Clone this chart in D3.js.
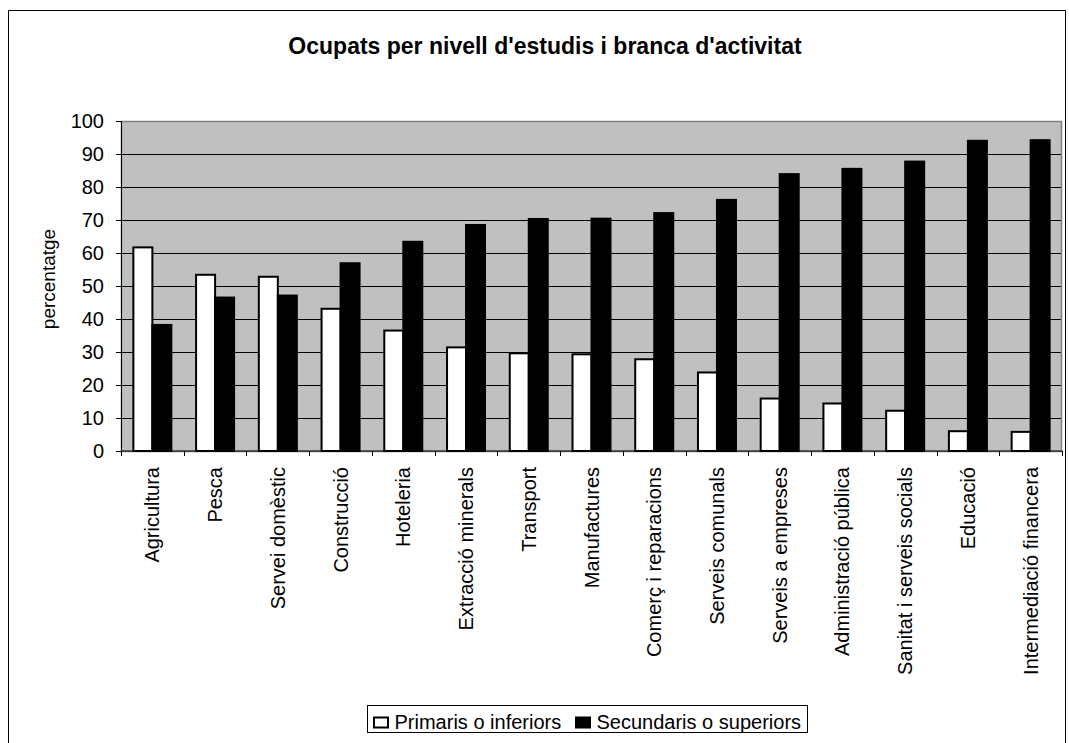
<!DOCTYPE html>
<html>
<head>
<meta charset="utf-8">
<script src="https://cdn.jsdelivr.net/npm/d3@7"></script>
<style>
  body { margin: 0; background: #fff; }
  svg { display: block; font-family: Arial, "Liberation Sans", sans-serif; }
</style>
</head>
<body>
<svg class="chart" width="1069" height="743"></svg>
<script>
const categories = ['Agricultura', 'Pesca', 'Servei domèstic', 'Construcció', 'Hoteleria',
    'Extracció minerals', 'Transport', 'Manufactures', 'Comerç i reparacions', 'Serveis comunals',
    'Serveis a empreses', 'Administració pública', 'Sanitat i serveis socials', 'Educació',
    'Intermediació financera'];
const primaris = [61.7, 53.4, 52.8, 43.1, 36.5, 31.4, 29.6, 29.3, 27.8, 23.8, 15.9, 14.4, 12.2, 6.0, 5.8];
const secundaris = [38.2, 46.5, 47.1, 56.9, 63.4, 68.5, 70.3, 70.4, 72.1, 76.1, 83.9, 85.5, 87.7, 94.0, 94.2];
const seriesNames = ['Primaris o inferiors', 'Secundaris o superiors'];
const yTicks = [0, 10, 20, 30, 40, 50, 60, 70, 80, 90, 100];

const svg = d3.select('.chart');
const width = +svg.attr('width');

const margin = { top: 121, left: 121, right: 7, bottom: 292 };
const innerWidth = width - margin.left - margin.right;
const innerHeight = 743 - margin.top - margin.bottom;

// outer frame, bottom edge runs off the page like in the original
svg.append('path')
    .attr('d', 'M8.5,743V10.5H1065.5V743')
    .attr('fill', 'none').attr('stroke', '#000').attr('stroke-width', 1);

svg.append('text')
    .attr('x', 545).attr('y', 54)
    .attr('text-anchor', 'middle')
    .style('font-size', '23px').style('font-weight', 'bold')
    .text("Ocupats per nivell d'estudis i branca d'activitat");

const g = svg.append('g')
    .attr('transform', `translate(${margin.left}, ${margin.top})`);

const x0 = d3.scaleBand()
    .domain(categories)
    .range([0, innerWidth]);

const x1 = d3.scaleBand()
    .domain(seriesNames)
    .range([0, 38]);

const y = d3.scaleLinear()
    .domain([0, 100])
    .range([innerHeight, 0]);

g.append('rect')
    .attr('width', innerWidth).attr('height', innerHeight)
    .attr('fill', '#c0c0c0');

// gridlines
g.append('g')
    .selectAll('line')
    .data(yTicks.slice(1, -1))
    .join('line')
    .attr('x1', 0).attr('x2', innerWidth)
    .attr('y1', d => Math.round(y(d)) + 0.5).attr('y2', d => Math.round(y(d)) + 0.5)
    .attr('stroke', '#000');

g.append('rect')
    .attr('x', 0.5).attr('y', 0.5)
    .attr('width', innerWidth - 1).attr('height', innerHeight)
    .attr('fill', 'none').attr('stroke', '#808080').attr('stroke-width', 1.5);

const rows = categories.map((c, i) => ({ cat: c, values: [primaris[i], secundaris[i]] }));
const color = d3.scaleOrdinal().domain(seriesNames).range(['#fff', '#000']);
const groupOffset = (x0.bandwidth() - 38) / 2;

g.append('g')
    .selectAll('g')
    .data(rows)
    .join('g')
    .attr('transform', d => `translate(${x0(d.cat) + groupOffset},0)`)
    .selectAll('rect')
    .data(d => seriesNames.map((key, k) => ({ key, value: d.values[k] })))
    .join('rect')
    .attr('x', d => x1(d.key))
    .attr('y', d => y(d.value))
    .attr('width', x1.bandwidth())
    .attr('height', d => y(0) - y(d.value))
    .attr('fill', d => color(d.key))
    .attr('stroke', '#000')
    .attr('stroke-width', 2);

// y axis
const yAxis = g.append('g')
    .call(d3.axisLeft(y).tickValues(yTicks).tickSize(5).tickPadding(12));
yAxis.select('.domain').attr('stroke', '#000');
yAxis.selectAll('text').style('font-size', '20px').attr('fill', '#000');

// x axis with ticks between categories
const xAxis = g.append('g')
    .attr('transform', `translate(0, ${innerHeight})`);
xAxis.append('line')
    .attr('x1', 0).attr('x2', innerWidth)
    .attr('stroke', '#000');
xAxis.selectAll('line.tick')
    .data(d3.range(categories.length + 1))
    .join('line')
    .attr('class', 'tick')
    .attr('x1', i => Math.round(i * x0.step()) + 0.5)
    .attr('x2', i => Math.round(i * x0.step()) + 0.5)
    .attr('y1', 0).attr('y2', 5)
    .attr('stroke', '#000');
xAxis.selectAll('text')
    .data(categories)
    .join('text')
    .attr('transform', d => `translate(${x0(d) + x0.bandwidth() / 2 + 7}, 16) rotate(-90)`)
    .attr('text-anchor', 'end')
    .style('font-size', '20px')
    .text(d => d);

svg.append('text')
    .attr('transform', 'translate(55, 279) rotate(-90)')
    .attr('text-anchor', 'middle')
    .style('font-size', '19px')
    .text('percentatge');

// legend
const legend = svg.append('g').attr('transform', 'translate(367.5, 705.5)');
legend.append('rect')
    .attr('width', 440).attr('height', 27)
    .attr('fill', '#fff').attr('stroke', '#000');
const items = legend.selectAll('g')
    .data(seriesNames)
    .join('g')
    .attr('transform', (d, i) => `translate(${i === 0 ? 6 : 208}, 0)`);
items.append('rect')
    .attr('x', 0.5).attr('y', 12)
    .attr('width', 14).attr('height', 10)
    .attr('fill', d => color(d))
    .attr('stroke', '#000').attr('stroke-width', 2);
items.append('text')
    .attr('x', 21).attr('y', 23.5)
    .style('font-size', '20px')
    .text(d => d);
</script>
</body>
</html>
